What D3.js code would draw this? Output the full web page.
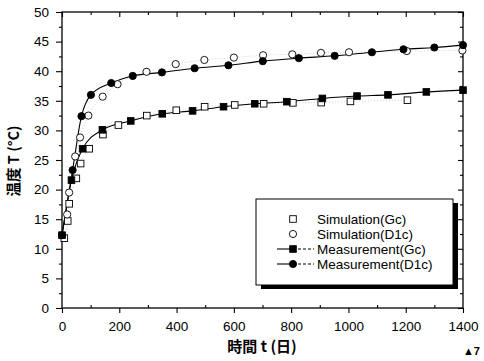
<!DOCTYPE html>
<html>
<head>
<meta charset="utf-8">
<script src="https://cdn.jsdelivr.net/npm/d3@7"></script>
<style>
  body { margin: 0; background: #fff; }
  svg text { font-family: "Liberation Sans", Arial, sans-serif; fill: #000; }
  .jp { font-family: "Noto Sans CJK JP", sans-serif; }
</style>
</head>
<body>
<svg id="chart" width="484" height="361"></svg>
<script>
// days / temperature pairs
const simGcDays = [8, 20, 25, 50, 65, 95, 143, 197, 296, 399, 498, 603, 704, 806, 905, 1007, 1206];
const simGcTemp = [11.8, 14.7, 17.6, 21.9, 24.4, 26.9, 29.3, 30.9, 32.5, 33.4, 34.0, 34.3, 34.5, 34.65, 34.7, 34.9, 35.1];

const simD1cDays = [18, 25, 46, 63, 92, 142, 194, 295, 397, 497, 600, 702, 804, 904, 1002, 1204, 1398];
const simD1cTemp = [15.8, 19.5, 25.6, 28.8, 32.5, 35.7, 37.8, 39.9, 41.2, 41.9, 42.3, 42.7, 42.85, 43.1, 43.2, 43.4, 43.5];

const meaGcDays = [0, 33, 72, 141, 240, 350, 456, 564, 673, 785, 909, 1030, 1138, 1272, 1400];
const meaGcTemp = [12.3, 21.6, 26.9, 30.1, 31.6, 32.8, 33.3, 34.0, 34.5, 34.85, 35.4, 35.8, 36.0, 36.5, 36.8];

const meaD1cDays = [0, 37, 68, 101, 172, 247, 349, 463, 581, 701, 827, 952, 1082, 1192, 1300, 1400];
const meaD1cTemp = [12.3, 23.3, 32.4, 36.0, 38.0, 39.2, 39.8, 40.5, 41.0, 41.7, 42.2, 42.6, 43.2, 43.7, 44.0, 44.4];

const xTicks = [0, 200, 400, 600, 800, 1000, 1200, 1400];
const yTicks = [0, 5, 10, 15, 20, 25, 30, 35, 40, 45, 50];
const legendLabels = ['Simulation(Gc)', 'Simulation(D1c)', 'Measurement(Gc)', 'Measurement(D1c)'];

const svg = d3.select('#chart');
const pL = 62, pR = 463, pT = 12, pB = 308;

const x = d3.scaleLinear().domain([0, 1400]).range([pL, pR]);
const y = d3.scaleLinear().domain([0, 50]).range([pB, pT]);

const zip = (a, b) => a.map((d, i) => [d, b[i]]);
const simGc = zip(simGcDays, simGcTemp);
const simD1c = zip(simD1cDays, simD1cTemp);
const meaGc = zip(meaGcDays, meaGcTemp);
const meaD1c = zip(meaD1cDays, meaD1cTemp);

// minor ticks
const xMinor = d3.range(100, 1400, 200);
const yMinor = d3.range(2.5, 50, 5);

// Frame lines
svg.append('rect')
  .attr('x', pL).attr('y', pT)
  .attr('width', pR - pL).attr('height', pB - pT)
  .attr('fill', 'none').attr('stroke', '#000').attr('stroke-width', 1.3);

// Bottom axis
const gx = svg.append('g')
  .attr('transform', `translate(0,${pB})`)
  .call(d3.axisBottom(x).tickValues(xTicks).tickSize(5).tickPadding(8).tickFormat(d3.format('d')));
gx.select('.domain').remove();
gx.selectAll('text').attr('font-size', 13.5).attr('font-family', 'Liberation Sans, Arial, sans-serif');
svg.append('g')
  .attr('transform', `translate(0,${pB})`)
  .call(d3.axisBottom(x).tickValues(xMinor).tickSize(-3).tickFormat(''))
  .call(g => g.select('.domain').remove());

// Left axis
const gy = svg.append('g')
  .attr('transform', `translate(${pL},0)`)
  .call(d3.axisLeft(y).tickValues(yTicks).tickSize(6).tickPadding(7));
gy.select('.domain').remove();
gy.selectAll('text').attr('font-size', 13.5).attr('font-family', 'Liberation Sans, Arial, sans-serif');
svg.append('g')
  .attr('transform', `translate(${pL},0)`)
  .call(d3.axisLeft(y).tickValues(yMinor).tickSize(3).tickFormat(''))
  .call(g => g.select('.domain').remove());

// Top axis, ticks inside
svg.append('g')
  .attr('transform', `translate(0,${pT})`)
  .call(d3.axisTop(x).tickValues(xTicks).tickSize(-5).tickFormat(''))
  .call(g => g.select('.domain').remove());
svg.append('g')
  .attr('transform', `translate(0,${pT})`)
  .call(d3.axisTop(x).tickValues(xMinor).tickSize(-3).tickFormat(''))
  .call(g => g.select('.domain').remove());

// Right axis, ticks inside
svg.append('g')
  .attr('transform', `translate(${pR},0)`)
  .call(d3.axisRight(y).tickValues(yTicks).tickSize(-5).tickFormat(''))
  .call(g => g.select('.domain').remove());
svg.append('g')
  .attr('transform', `translate(${pR},0)`)
  .call(d3.axisRight(y).tickValues(yMinor).tickSize(-3).tickFormat(''))
  .call(g => g.select('.domain').remove());

svg.selectAll('.tick line').attr('stroke', '#000').attr('stroke-width', 1.1);

// Lines
const line = d3.line().x(d => x(d[0])).y(d => y(d[1])).curve(d3.curveMonotoneX);

[simGc, simD1c].forEach(s => {
  svg.append('path').datum(s)
    .attr('d', line)
    .attr('fill', 'none').attr('stroke', '#bbb')
    .attr('stroke-width', 0.7).attr('stroke-dasharray', '1,2');
});
[meaGc, meaD1c].forEach(s => {
  svg.append('path').datum(s)
    .attr('d', line)
    .attr('fill', 'none').attr('stroke', '#000').attr('stroke-width', 1.1);
});

// Markers
function squares(data, fill) {
  svg.append('g').selectAll('rect').data(data).join('rect')
    .attr('x', d => x(d[0]) - 3.3).attr('y', d => y(d[1]) - 3.3)
    .attr('width', 6.6).attr('height', 6.6)
    .attr('fill', fill).attr('stroke', '#000').attr('stroke-width', 0.9);
}
function circles(data, fill) {
  svg.append('g').selectAll('circle').data(data).join('circle')
    .attr('cx', d => x(d[0])).attr('cy', d => y(d[1]))
    .attr('r', 3.6)
    .attr('fill', fill).attr('stroke', '#000').attr('stroke-width', 0.9);
}
squares(simGc, '#fff');
circles(simD1c, '#fff');
squares(meaGc, '#000');
circles(meaD1c, '#000');

// Legend box with shadow
const lg = svg.append('g');
lg.append('rect').attr('x', 261).attr('y', 203).attr('width', 197).attr('height', 86).attr('fill', '#000');
lg.append('rect').attr('x', 256).attr('y', 199).attr('width', 197).attr('height', 86)
  .attr('fill', '#fff').attr('stroke', '#000').attr('stroke-width', 1);

const ly = [219, 234, 249, 264];
const mx = 293;
legendLabels.forEach((t, i) => {
  const cy = ly[i];
  if (i >= 2) {
    lg.append('line').attr('x1', 277).attr('x2', mx).attr('y1', cy).attr('y2', cy)
      .attr('stroke', '#000').attr('stroke-width', 1.1);
    lg.append('line').attr('x1', mx).attr('x2', 314).attr('y1', cy).attr('y2', cy)
      .attr('stroke', '#000').attr('stroke-width', 1.1).attr('stroke-dasharray', '3,2');
  }
  const fill = i >= 2 ? '#000' : '#fff';
  if (i % 2 === 0) {
    lg.append('rect').attr('x', mx - 3.3).attr('y', cy - 3.3).attr('width', 6.6).attr('height', 6.6)
      .attr('fill', fill).attr('stroke', '#000').attr('stroke-width', 0.9);
  } else {
    lg.append('circle').attr('cx', mx).attr('cy', cy).attr('r', 3.6)
      .attr('fill', fill).attr('stroke', '#000').attr('stroke-width', 0.9);
  }
  lg.append('text').attr('x', 317).attr('y', cy).attr('dy', '0.36em')
    .attr('font-size', 13.5).text(t);
});

// Axis titles
svg.append('text').attr('class', 'jp')
  .attr('x', 262).attr('y', 352).attr('text-anchor', 'middle')
  .attr('font-size', 15).attr('font-weight', 'bold')
  .text('時間 t (日)');

svg.append('text').attr('class', 'jp')
  .attr('transform', 'translate(19,161) rotate(-90)')
  .attr('text-anchor', 'middle')
  .attr('font-size', 14.5).attr('font-weight', 'bold')
  .text('温度 T (°C)');

svg.append('text').attr('x', 480).attr('y', 355).attr('text-anchor', 'end')
  .attr('font-size', 11).attr('font-weight', 'bold').text('▲7');
</script>
</body>
</html>
